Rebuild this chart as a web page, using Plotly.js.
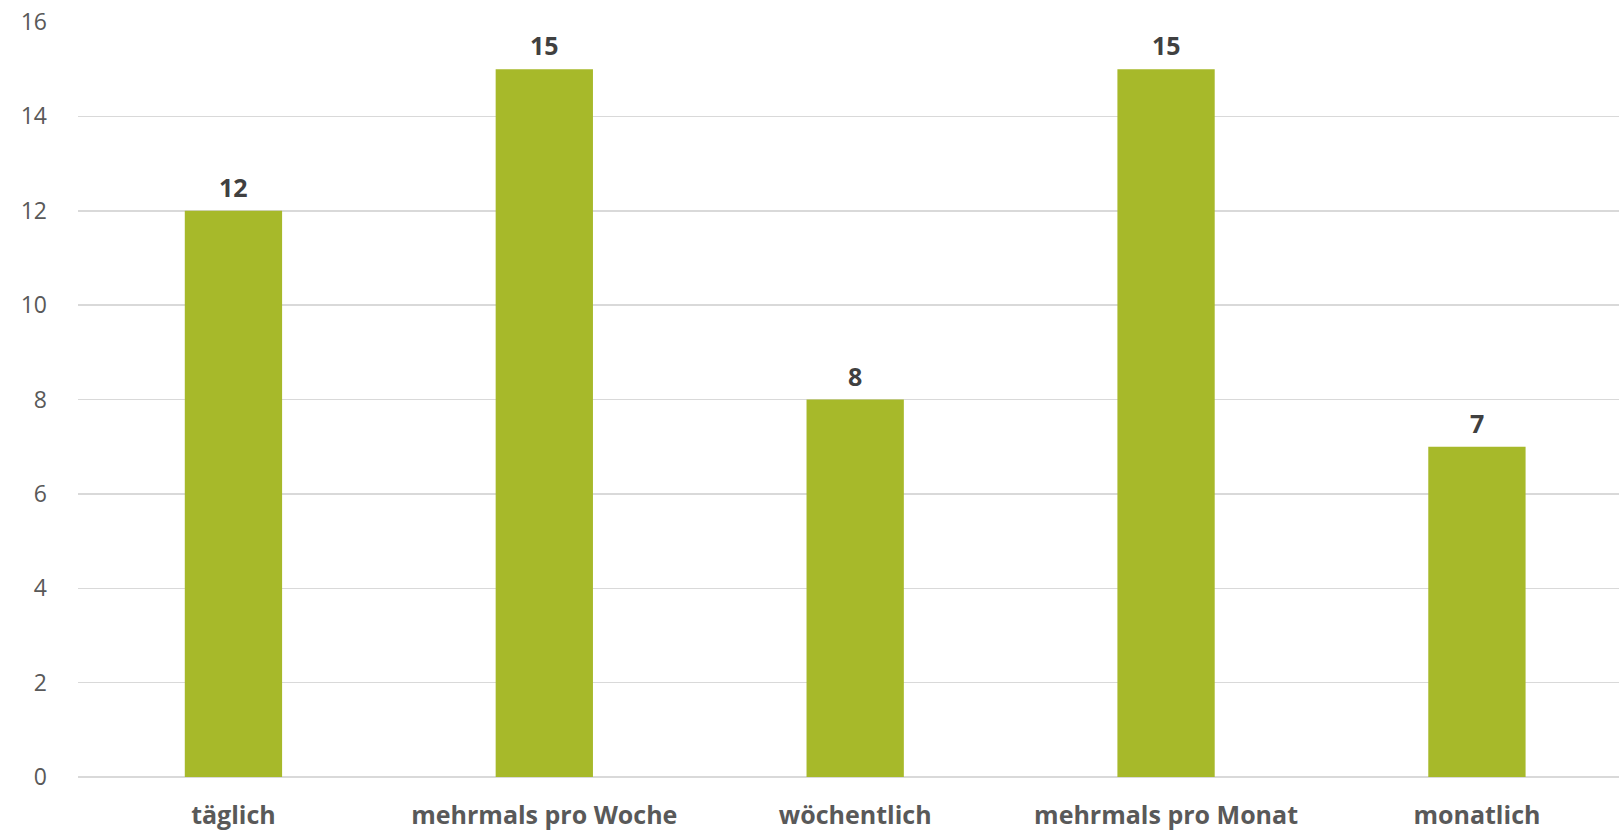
<!DOCTYPE html>
<html>
<head>
<meta charset="utf-8">
<script src="https://cdn.plot.ly/plotly-3.0.1.min.js"></script>
<style>html,body{margin:0;padding:0;background:#fff;}#chart{width:1619px;height:836px;}</style>
</head>
<body>
<div id="chart"></div>
<script>
const categories = ["täglich", "mehrmals pro Woche", "wöchentlich", "mehrmals pro Monat", "monatlich"];
const values = [12, 15, 8, 15, 7];
const yTicks = [0, 2, 4, 6, 8, 10, 12, 14, 16];

const trace = {
  type: 'bar',
  x: categories,
  y: values,
  marker: {color: '#A7B92A'},
  hoverinfo: 'none'
};

const annotations = categories.map((c, i) => ({
  x: c, y: values[i], xref: 'x', yref: 'y',
  text: String(values[i]),
  showarrow: false,
  yanchor: 'bottom',
  yshift: 5,
  font: {family: 'Open Sans, sans-serif', size: 25, color: '#404040', weight: 'bold'}
}));

const layout = {
  width: 1619, height: 836,
  margin: {l: 78, r: 0, t: 22, b: 59},
  paper_bgcolor: '#fff', plot_bgcolor: '#fff',
  bargap: 0.687,
  showlegend: false,
  annotations: annotations,
  font: {family: 'Open Sans, sans-serif', color: '#595959'},
  xaxis: {
    type: 'category',
    range: [-0.5, 4.457],
    showgrid: false,
    showline: false,
    zeroline: false,
    ticks: '',
    ticklabelstandoff: 21,
    tickfont: {size: 25, color: '#595959', weight: 'bold'}
  },
  yaxis: {
    range: [0, 16],
    tickvals: yTicks,
    ticktext: yTicks.map(String),
    showgrid: true,
    gridcolor: '#D9D9D9',
    gridwidth: 1.5,
    zeroline: true,
    zerolinecolor: '#D9D9D9',
    zerolinewidth: 1.5,
    showline: false,
    ticks: '',
    ticklabelstandoff: 30,
    tickfont: {size: 23, color: '#595959'}
  }
};

Plotly.newPlot('chart', [trace], layout, {displayModeBar: false, staticPlot: true});
</script>
</body>
</html>
